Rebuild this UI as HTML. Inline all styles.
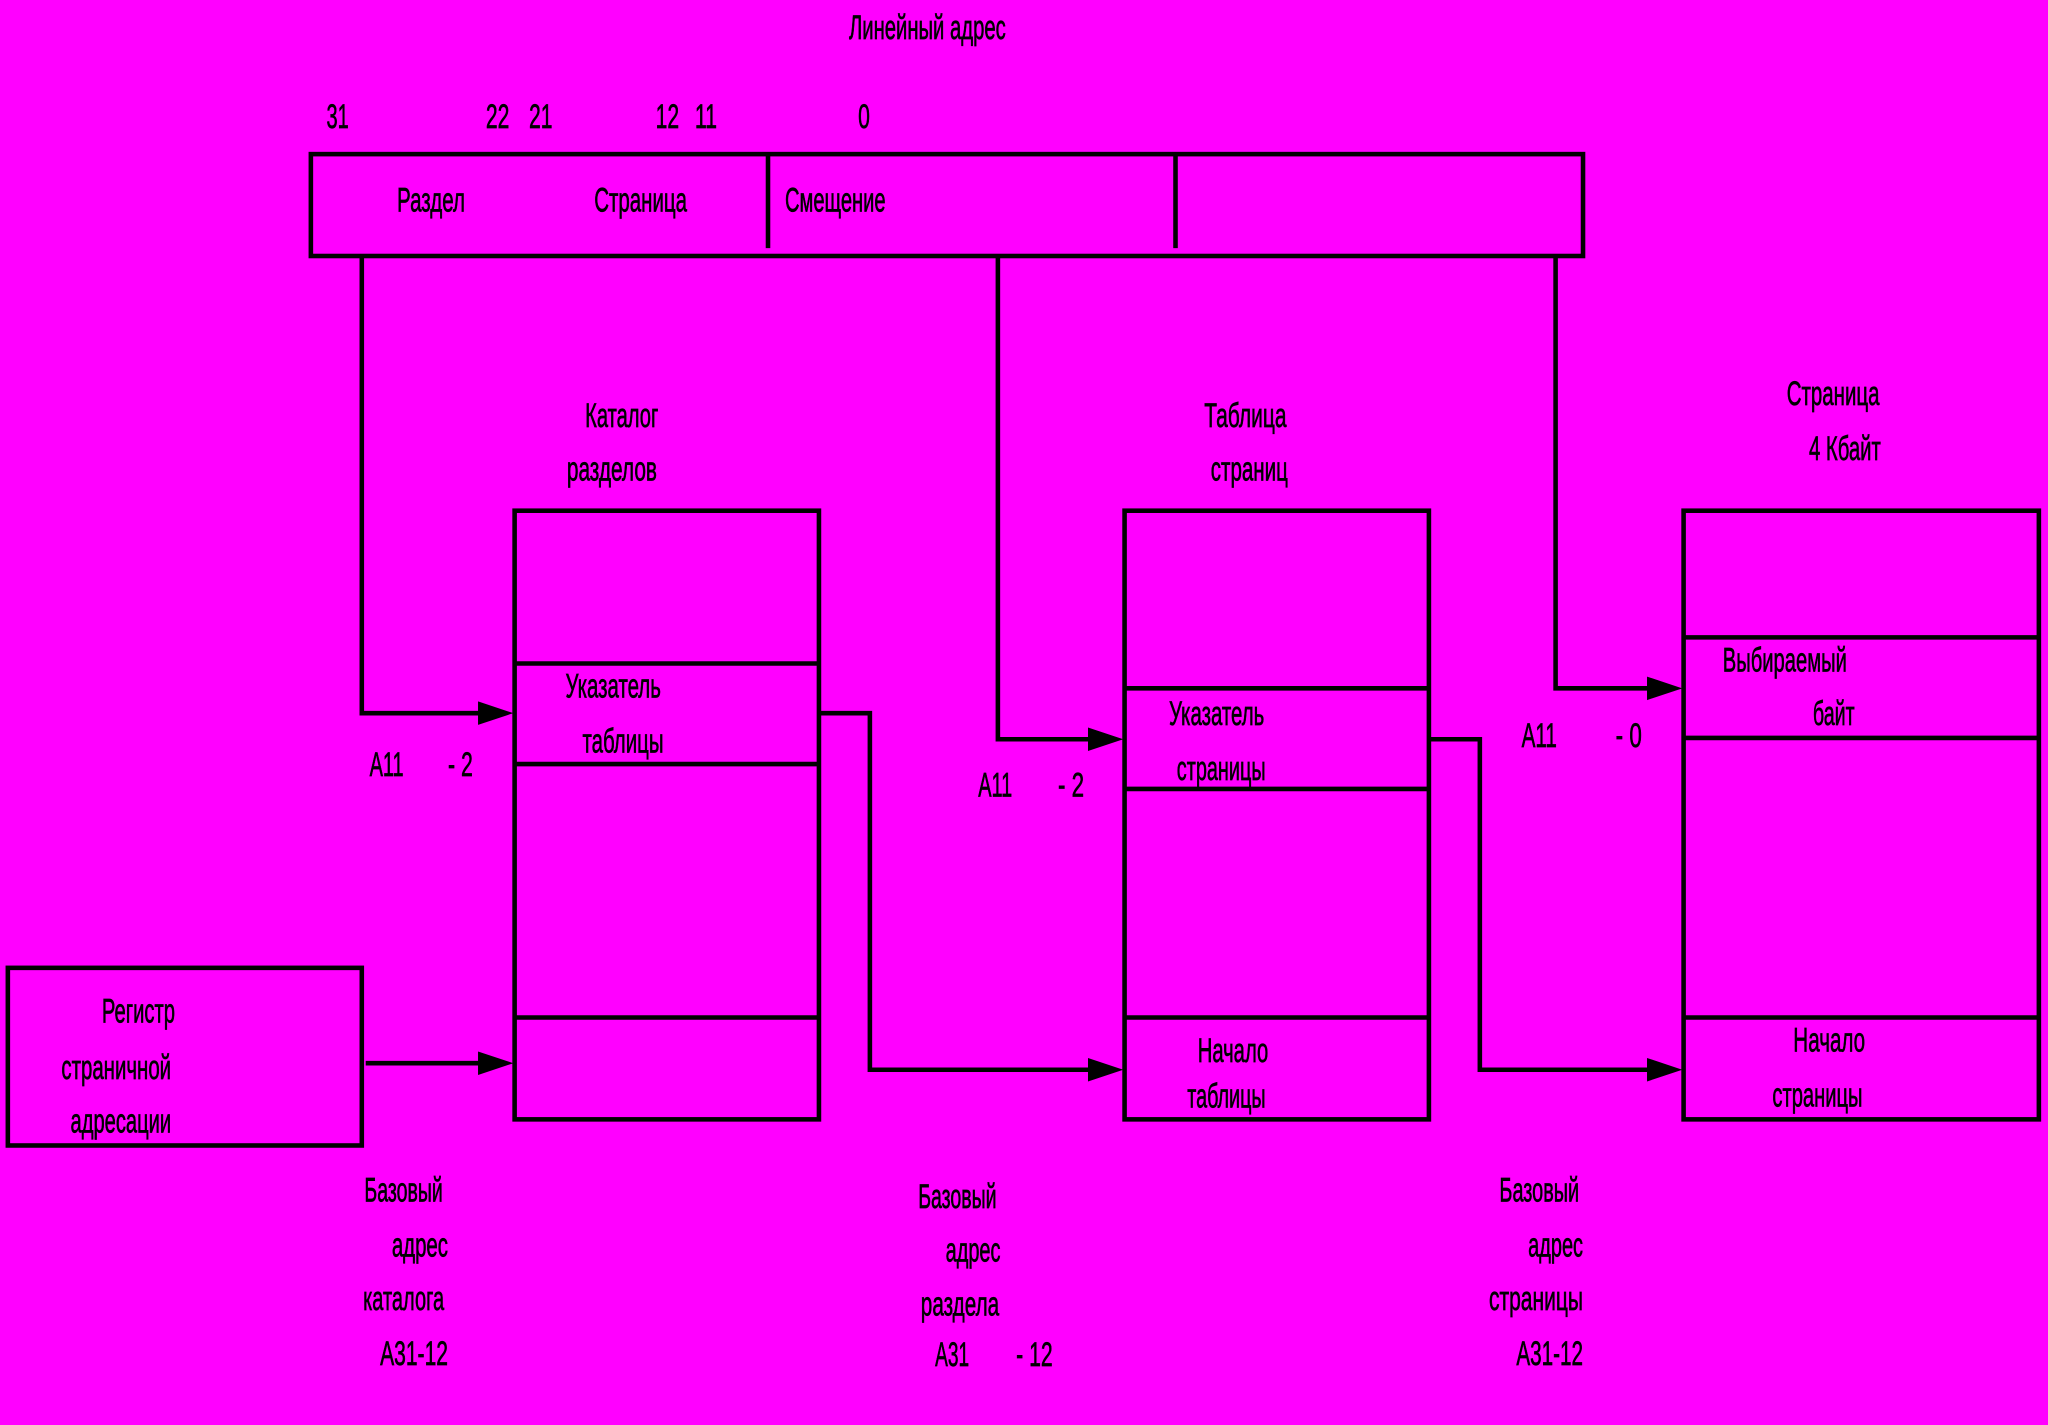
<!DOCTYPE html>
<html><head><meta charset="utf-8"><style>html,body{margin:0;padding:0;background:#ff00ff}svg{display:block}</style></head><body>
<svg width="2048" height="1425" viewBox="0 0 1568 1091" xmlns="http://www.w3.org/2000/svg" preserveAspectRatio="none">
<rect width="1568" height="1091" fill="#ff00ff"/>
<g fill="none" stroke="#000" stroke-width="3.5">
<rect x="238" y="118" width="974" height="78"/>
<line x1="588" y1="118" x2="588" y2="190"/>
<line x1="900" y1="118" x2="900" y2="190"/>
<polyline points="277,196 277,546 370,546"/>
<polyline points="764,196 764,566 836,566"/>
<polyline points="1191,196 1191,527 1264,527"/>
<rect x="394" y="391" width="233" height="466"/>
<line x1="394" y1="508" x2="627" y2="508"/><line x1="394" y1="585" x2="627" y2="585"/><line x1="394" y1="779" x2="627" y2="779"/>
<rect x="861" y="391" width="233" height="466"/>
<line x1="861" y1="527" x2="1094" y2="527"/><line x1="861" y1="604" x2="1094" y2="604"/><line x1="861" y1="779" x2="1094" y2="779"/>
<rect x="1289" y="391" width="272" height="466"/>
<line x1="1289" y1="488" x2="1561" y2="488"/><line x1="1289" y1="565" x2="1561" y2="565"/><line x1="1289" y1="779" x2="1561" y2="779"/>
<rect x="6" y="741" width="271" height="136"/>
<line x1="280" y1="814" x2="370" y2="814"/>
<polyline points="627,546 666,546 666,819 836,819"/>
<polyline points="1094,566 1133,566 1133,819 1264,819"/>
</g>
<g fill="#000">
<polygon points="393,546 366,537 366,555"/>
<polygon points="860,566 833,557 833,575"/>
<polygon points="1288,527 1261,518 1261,536"/>
<polygon points="393,814 366,805 366,823"/>
<polygon points="860,819 833,810 833,828"/>
<polygon points="1288,819 1261,810 1261,828"/>
</g>
<g font-family="'Liberation Sans', sans-serif" font-size="26" fill="#000" stroke="#000" stroke-width="0.5">
<text x="650" y="30" textLength="120" lengthAdjust="spacingAndGlyphs">Линейный адрес</text>
<text x="250" y="98" textLength="17" lengthAdjust="spacingAndGlyphs">31</text>
<text x="372" y="98" textLength="18" lengthAdjust="spacingAndGlyphs">22</text>
<text x="405" y="98" textLength="18" lengthAdjust="spacingAndGlyphs">21</text>
<text x="502" y="98" textLength="18" lengthAdjust="spacingAndGlyphs">12</text>
<text x="532" y="98" textLength="17" lengthAdjust="spacingAndGlyphs">11</text>
<text x="657" y="98" textLength="9" lengthAdjust="spacingAndGlyphs">0</text>
<text x="304" y="162" textLength="52" lengthAdjust="spacingAndGlyphs">Раздел</text>
<text x="455" y="162" textLength="71" lengthAdjust="spacingAndGlyphs">Страница</text>
<text x="601" y="162" textLength="77" lengthAdjust="spacingAndGlyphs">Смещение</text>
<text x="448" y="327" textLength="56" lengthAdjust="spacingAndGlyphs">Каталог</text>
<text x="434" y="368" textLength="69" lengthAdjust="spacingAndGlyphs">разделов</text>
<text x="922" y="327" textLength="63" lengthAdjust="spacingAndGlyphs">Таблица</text>
<text x="927" y="368" textLength="59" lengthAdjust="spacingAndGlyphs">страниц</text>
<text x="1368" y="310" textLength="71" lengthAdjust="spacingAndGlyphs">Страница</text>
<text x="1385" y="352" textLength="55" lengthAdjust="spacingAndGlyphs">4 Кбайт</text>
<text x="433" y="534" textLength="73" lengthAdjust="spacingAndGlyphs">Указатель</text>
<text x="446" y="576" textLength="62" lengthAdjust="spacingAndGlyphs">таблицы</text>
<text x="895" y="555" textLength="73" lengthAdjust="spacingAndGlyphs">Указатель</text>
<text x="901" y="597" textLength="68" lengthAdjust="spacingAndGlyphs">страницы</text>
<text x="1319" y="514" textLength="95" lengthAdjust="spacingAndGlyphs">Выбираемый</text>
<text x="1388" y="555" textLength="32" lengthAdjust="spacingAndGlyphs">байт</text>
<text x="283" y="594" textLength="26" lengthAdjust="spacingAndGlyphs">A11</text>
<text x="343" y="594" textLength="19" lengthAdjust="spacingAndGlyphs">- 2</text>
<text x="749" y="610" textLength="26" lengthAdjust="spacingAndGlyphs">A11</text>
<text x="810" y="610" textLength="20" lengthAdjust="spacingAndGlyphs">- 2</text>
<text x="1165" y="572" textLength="27" lengthAdjust="spacingAndGlyphs">A11</text>
<text x="1237" y="572" textLength="20" lengthAdjust="spacingAndGlyphs">- 0</text>
<text x="78" y="783" textLength="56" lengthAdjust="spacingAndGlyphs">Регистр</text>
<text x="47" y="826" textLength="84" lengthAdjust="spacingAndGlyphs">страничной</text>
<text x="54" y="867" textLength="77" lengthAdjust="spacingAndGlyphs">адресации</text>
<text x="917" y="813" textLength="54" lengthAdjust="spacingAndGlyphs">Начало</text>
<text x="909" y="848" textLength="60" lengthAdjust="spacingAndGlyphs">таблицы</text>
<text x="1373" y="805" textLength="55" lengthAdjust="spacingAndGlyphs">Начало</text>
<text x="1357" y="847" textLength="69" lengthAdjust="spacingAndGlyphs">страницы</text>
<text x="279" y="920" textLength="60" lengthAdjust="spacingAndGlyphs">Базовый</text>
<text x="300" y="962" textLength="43" lengthAdjust="spacingAndGlyphs">адрес</text>
<text x="278" y="1003" textLength="62" lengthAdjust="spacingAndGlyphs">каталога</text>
<text x="291" y="1045" textLength="52" lengthAdjust="spacingAndGlyphs">А31-12</text>
<text x="703" y="925" textLength="60" lengthAdjust="spacingAndGlyphs">Базовый</text>
<text x="724" y="966" textLength="42" lengthAdjust="spacingAndGlyphs">адрес</text>
<text x="705" y="1007" textLength="60" lengthAdjust="spacingAndGlyphs">раздела</text>
<text x="716" y="1046" textLength="26" lengthAdjust="spacingAndGlyphs">A31</text>
<text x="778" y="1046" textLength="28" lengthAdjust="spacingAndGlyphs">- 12</text>
<text x="1148" y="920" textLength="61" lengthAdjust="spacingAndGlyphs">Базовый</text>
<text x="1170" y="962" textLength="42" lengthAdjust="spacingAndGlyphs">адрес</text>
<text x="1140" y="1003" textLength="72" lengthAdjust="spacingAndGlyphs">страницы</text>
<text x="1161" y="1045" textLength="51" lengthAdjust="spacingAndGlyphs">А31-12</text>
</g>
</svg>
</body></html>
